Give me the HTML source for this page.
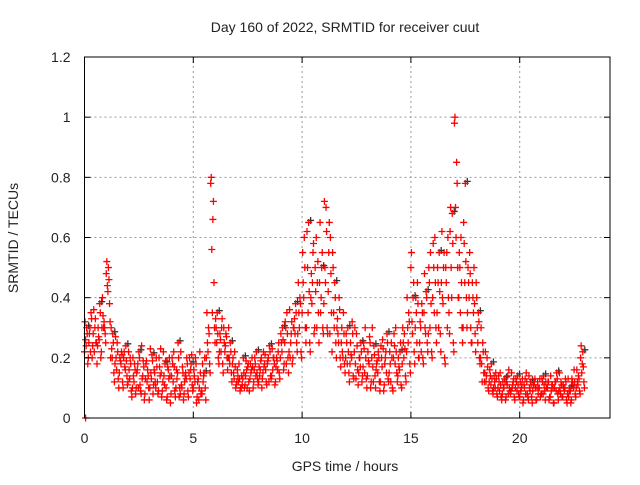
<!DOCTYPE html>
<html><head><meta charset="utf-8"><style>
body{margin:0;background:#fff;}
svg text{font-family:"Liberation Sans",sans-serif;font-size:14px;fill:#222;}
</style></head><body>
<svg id="chart" width="640" height="480" xmlns="http://www.w3.org/2000/svg">
<rect width="640" height="480" fill="#fff"/>
<text x="345" y="32" text-anchor="middle">Day 160 of 2022, SRMTID for receiver cuut</text>
<text x="345" y="471" text-anchor="middle">GPS time / hours</text>
<text transform="translate(18,238) rotate(-90)" text-anchor="middle">SRMTID / TECUs</text>
<g id="grid"></g><g id="marks"></g><g id="axes"></g>
</svg>
<script>
const xTicks=[0,5,10,15,20];
const yTicks=[0,0.2,0.4,0.6,0.8,1,1.2];
const yTickLabels=["0","0.2","0.4","0.6","0.8","1","1.2"];
const s1=[.22,.25,.28,.24,.3,.48,.2,.18,.15,.2,.12,.1,.15,.08,.13,.1,.16,.09,.12,.07,.14,.1,.08,.12,.15,.1,.12,.08,.2,.78,.25,.22,.3,.2,.18,.12,.1,.14,.13,.16,.12,.15,.18,.14,.17,.2,.25,.22,.3,.28,.35,.3,.4,.5,.45,.38,.42,.55,.3,.25,.2,.18,.22,.15,.17,.14,.2,.16,.12,.18,.15,.2,.14,.18,.22,.5,.3,.25,.35,.28,.4,.35,.45,.5,.62,.98,.4,.3,.35,.25,.45,.2,.15,.12,.1,.1,.08,.12,.09,.1,.07,.11,.06,.09,.1,.08,.12,.07,.1,.09,.11,.08,.13,.1,.2];
const s2=[.3,.35,.33,.38,.32,.5,.28,.25,.22,.24,.2,.18,.22,.19,.16,.21,.2,.23,.18,.2,.22,.25,.17,.2,.18,.2,.22,.15,.3,.66,.35,.3,.28,.25,.22,.18,.2,.17,.2,.22,.19,.21,.24,.2,.22,.3,.35,.28,.38,.4,.6,.65,.55,.45,.5,.7,.6,.45,.4,.35,.3,.32,.28,.25,.3,.27,.24,.22,.26,.28,.25,.3,.22,.28,.35,.4,.45,.38,.42,.55,.6,.55,.5,.6,.68,.85,.6,.78,.55,.5,.35,.25,.2,.18,.15,.15,.13,.16,.12,.14,.11,.15,.12,.13,.1,.14,.12,.11,.15,.12,.13,.1,.16,.14,.22];
const s3=[.26,.3,.22,.27,.34,.44,.23,.2,.19,.17,.16,.14,.18,.13,.19,.15,.12,.17,.14,.16,.18,.13,.11,.15,.13,.14,.06,.12,.25,.56,.3,.26,.22,.2,.15,.14,.11,.16,.15,.18,.14,.17,.2,.16,.19,.25,.3,.2,.33,.35,.45,.5,.38,.6,.35,.5,.65,.35,.28,.22,.25,.21,.18,.2,.23,.19,.17,.19,.2,.22,.18,.24,.17,.25,.3,.32,.35,.3,.3,.45,.5,.45,.4,.55,.5,.7,.5,.58,.45,.4,.3,.18,.12,.14,.12,.12,.1,.14,.1,.12,.09,.13,.1,.11,.08,.12,.1,.09,.12,.1,.09,.07,.11,.12,.15];
const s4=[.18,.2,.25,.2,.28,.38,.15,.13,.12,.14,.09,.08,.11,.06,.1,.08,.12,.07,.1,.05,.09,.07,.06,.09,.11,.05,.08,.1,.18,.45,.2,.18,.2,.15,.1,.09,.1,.12,.1,.13,.1,.12,.14,.11,.15,.16,.2,.18,.25,.22,.3,.25,.28,.35,.3,.3,.35,.25,.2,.18,.15,.14,.16,.12,.13,.1,.14,.12,.09,.13,.1,.15,.11,.14,.18,.22,.2,.2,.25,.22,.3,.28,.2,.35,.25,.5,.3,.4,.3,.28,.2,.15,.1,.09,.08,.07,.06,.09,.07,.08,.05,.08,.07,.06,.07,.09,.06,.05,.08,.07,.06,.05,.08,.09,.12];
const s5=[.32,.28,.36,.3,.4,.52,.3,.27,.2,.22,.22,.2,.16,.24,.18,.23,.15,.2,.22,.17,.2,.16,.22,.14,.2,.16,.13,.18,.35,.8,.33,.28,.25,.3,.2,.16,.14,.19,.18,.2,.17,.22,.19,.23,.2,.28,.32,.36,.3,.45,.55,.62,.48,.42,.65,.72,.55,.5,.33,.3,.28,.25,.3,.2,.25,.22,.3,.18,.24,.2,.22,.28,.2,.3,.4,.55,.4,.32,.48,.5,.58,.5,.62,.45,.7,1.0,.55,.65,.5,.45,.4,.3,.22,.16,.14,.14,.12,.11,.15,.13,.12,.1,.14,.11,.12,.13,.1,.14,.12,.15,.1,.13,.12,.16,.24];
const s6=[.24,.22,.3,.26,.3,.42,.2,.16,.18,.16,.13,.12,.1,.14,.12,.13,.1,.14,.11,.13,.12,.15,.1,.13,.16,.12,.1,.14,.22,.35,.25,.22,.24,.18,.13,.12,.13,.1,.16,.14,.16,.18,.12,.2,.16,.22,.18,.25,.28,.3,.4,.35,.45,.3,.4,.45,.28,.3,.25,.2,.18,.2,.13,.17,.15,.18,.12,.15,.17,.15,.12,.18,.16,.2,.25,.28,.25,.22,.28,.3,.35,.3,.38,.3,.4,.6,.35,.45,.4,.35,.25,.12,.14,.11,.1,.09,.1,.08,.11,.09,.1,.08,.09,.12,.1,.08,.1,.11,.09,.08,.1,.09,.1,.11,.18];
const s7=[.28,.33,.25,.35,.3,.46,.25,.22,.21,.19,.18,.16,.2,.17,.14,.19,.17,.15,.19,.14,.17,.2,.15,.18,.21,.18,.15,.2,.28,.72,.28,.33,.27,.22,.17,.13,.15,.18,.17,.15,.2,.16,.22,.18,.25,.26,.28,.32,.35,.38,.5,.42,.58,.52,.55,.62,.48,.4,.36,.28,.22,.28,.24,.22,.2,.25,.21,.2,.23,.25,.2,.22,.25,.23,.32,.45,.38,.35,.4,.38,.45,.42,.55,.4,.58,.78,.45,.52,.48,.38,.32,.22,.17,.13,.13,.11,.12,.1,.13,.11,.13,.12,.11,.1,.13,.11,.12,.1,.13,.11,.12,.09,.12,.13,.17];
const s8=[.2,.24,.18,.22,.25,.32,.12,.1,.1,.11,.07,.1,.09,.08,.06,.11,.08,.09,.06,.08,.07,.1,.08,.07,.09,.07,.09,.06,.15,.3,.18,.15,.16,.12,.11,.1,.11,.09,.12,.11,.13,.11,.13,.12,.13,.18,.15,.2,.22,.2,.25,.22,.3,.25,.28,.28,.22,.2,.17,.15,.12,.13,.11,.14,.1,.12,.1,.09,.11,.12,.09,.12,.1,.12,.15,.18,.2,.18,.22,.2,.25,.22,.18,.28,.22,.4,.25,.3,.25,.22,.18,.12,.09,.08,.07,.06,.07,.08,.06,.07,.06,.07,.05,.06,.08,.06,.07,.05,.06,.07,.05,.06,.07,.08,.1];
const series=[s1,s2,s3,s4,s5,s6,s7,s8];
const timeStep=0.2;
const seriesOffsets=[0,0.1,0.05,0.15,0.025,0.075,0.125,0.175];
const X0=84.5,X1=610,Y0=418,Y1=57;
const xS=t=>X0+t*(193.3-84.5)/5;
const yS=v=>Y0-v*(Y0-Y1)/1.2;
const NS="http://www.w3.org/2000/svg";
function mk(tag,attrs,parent){const e=document.createElementNS(NS,tag);for(const k in attrs)e.setAttribute(k,attrs[k]);parent.appendChild(e);return e;}
const grid=document.getElementById('grid'),axes=document.getElementById('axes'),marks=document.getElementById('marks');
xTicks.forEach(t=>{
 if(t>0){const g=mk('line',{x1:xS(t),x2:xS(t),y1:Y0,y2:Y1,stroke:'#999','stroke-dasharray':'2,3'},grid);
 
 }
 mk('line',{x1:xS(t),x2:xS(t),y1:Y0,y2:Y0-6,stroke:'#000'},axes);
 mk('line',{x1:xS(t),x2:xS(t),y1:Y1,y2:Y1+6,stroke:'#000'},axes);
 const l=mk('text',{x:xS(t),y:Y0+25,'text-anchor':'middle'},axes);l.textContent=t;
 
 
});
yTicks.forEach((v,i)=>{
 if(v>0&&v<1.2){const g=mk('line',{x1:X0,x2:X1,y1:yS(v),y2:yS(v),stroke:'#999','stroke-dasharray':'2,3'},grid);
 
 }
 mk('line',{x1:X0,x2:X0+6,y1:yS(v),y2:yS(v),stroke:'#000'},axes);
 mk('line',{x1:X1,x2:X1-6,y1:yS(v),y2:yS(v),stroke:'#000'},axes);
 const l=mk('text',{x:X0-14,y:yS(v)+5,'text-anchor':'end'},axes);l.textContent=yTickLabels[i];
 
 
});
const fr=mk('rect',{x:X0,y:Y1,width:X1-X0,height:Y0-Y1,fill:'none',stroke:'#000'},axes);


function plus(x,y,col){const p=mk('path',{d:`M${x-3.5},${y}h7M${x},${y-3.5}v7`,stroke:col,'stroke-width':1.3,fill:'none'},marks);
 
 }
series.forEach((s,k)=>s.forEach((v,i)=>{
 const t=i*timeStep+seriesOffsets[k];
 if(k===1&&i%3===0)plus(xS(t)+2,yS(v)-2,'#333');
 plus(xS(t),yS(v),'#f00');
}));
plus(xS(0.05),yS(0),'#f00');
</script>
</body></html>
